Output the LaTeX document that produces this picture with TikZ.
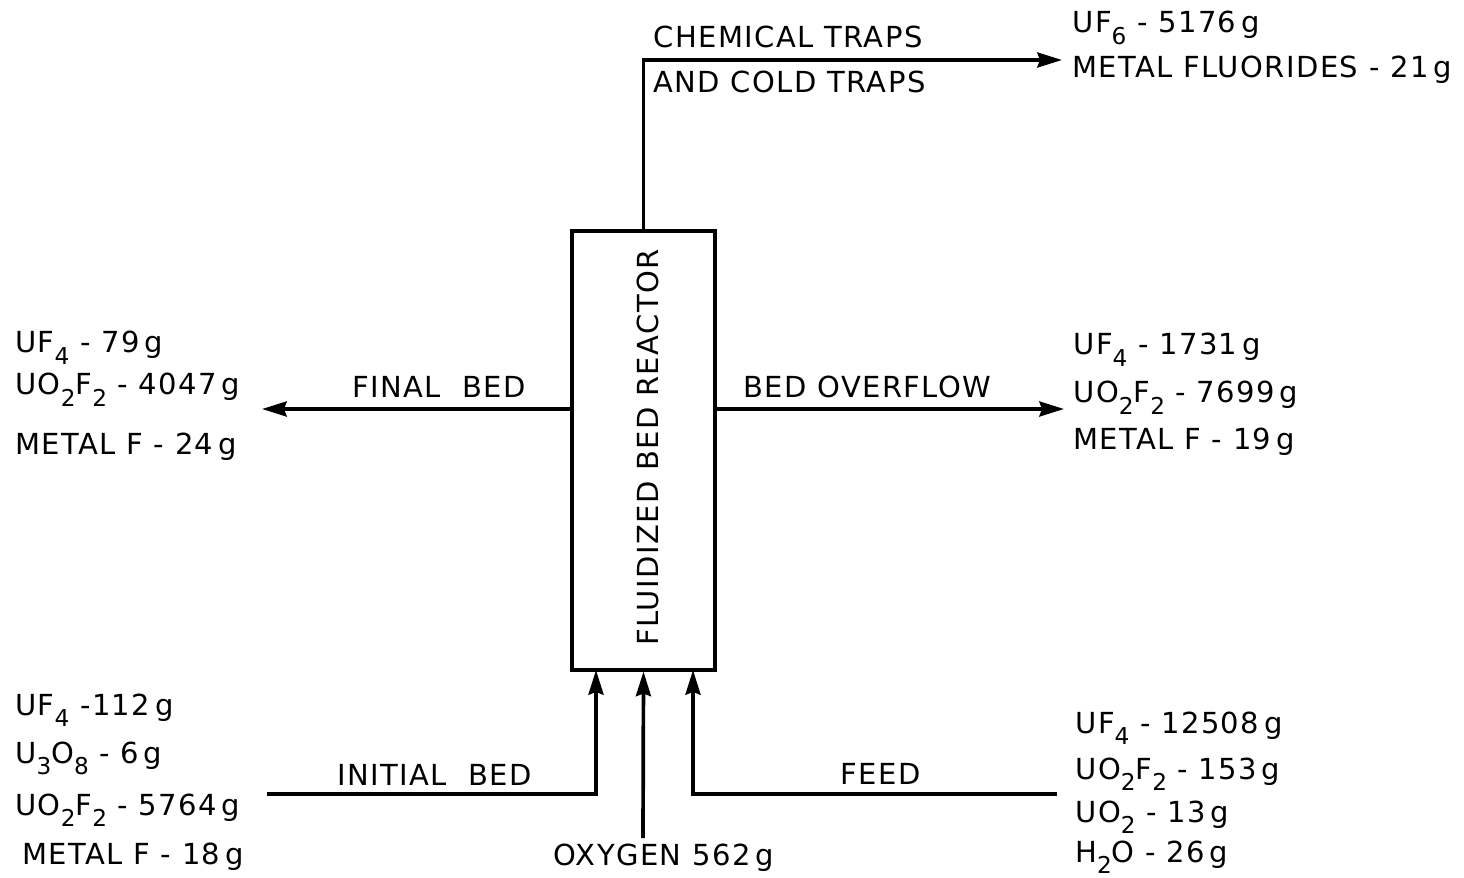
\documentclass[tikz,border=0pt]{standalone}
\usepackage{fontspec}
\setmainfont{DejaVu Sans}[LetterSpace=5]
\usetikzlibrary{arrows.meta}
\newcommand{\chemsub}[1]{\raisebox{-0.4em}{\scalebox{0.8}{#1}}}

\begin{document}
\begin{tikzpicture}[
    x=0.02cm,y=-0.02cm,
    font=\fontsize{16.5}{19}\selectfont,
    stream/.style={anchor=base west,inner sep=0pt},
    reactorbox/.style={draw,line width=1.8pt,minimum width=2.86cm,minimum height=8.78cm,inner sep=0pt},
    flow/.style={-{Stealth[length=14pt,width=8.5pt,inset=1.5pt]},line width=2.1pt}
  ]
    \useasboundingbox (0,0) rectangle (1464,878);

    % reactor
    \node[reactorbox] (reactor) at (643.5,450.5) {};
    \node[rotate=90,inner sep=0pt] (reactorlabel) at (648,447.5) {FLUIDIZED BED REACTOR};

    % free ends of the streams
    \coordinate (trapstip) at (1062,60);
    \coordinate (finaltip) at (262,409);
    \coordinate (overflowtip) at (1064,409);
    \coordinate (initialstart) at (267,794);
    \coordinate (initialin) at (596,670);
    \coordinate (oxygenstart) at (643,838);
    \coordinate (feedstart) at (1057,794);
    \coordinate (feedin) at (693,670);

    \draw[flow] (reactor.north) |- (trapstip);
    \draw[flow] (reactor.west |- finaltip) -- (finaltip);
    \draw[flow] (reactor.east |- overflowtip) -- (overflowtip);
    \draw[flow] (initialstart) -| (initialin);
    \draw[flow] (oxygenstart) -- (reactor.south);
    \draw[flow] (feedstart) -| (feedin);

    % stream labels
    \node[stream] (chemtraps) at (653,48) {CHEMICAL TRAPS};
    \node[stream] (coldtraps) at (653,93) {AND COLD TRAPS};
    \node[stream] (finalbed) at (352,398) {FINAL\ \ BED};
    \node[stream] (overflow) at (743,398) {BED OVERFLOW};
    \node[stream] (initialbed) at (337,785) {INITIAL\ \ BED};
    \node[stream] (feed) at (840,784) {FEED};
    \node[stream] (oxygen) at (553,865) {OXYGEN 562\,g};

    % off-gas
    \node[stream] (offuf) at (1072,33) {UF\chemsub{6}\ - 5176\,g};
    \node[stream] (offmetal) at (1072,78) {METAL FLUORIDES - 21\,g};

    % final bed
    \node[stream] (finaluf) at (15,353) {UF\chemsub{4}\ - 79\,g};
    \node[stream] (finaluo) at (15,395) {UO\chemsub{2}F\chemsub{2} - 4047\,g};
    \node[stream] (finalmetal) at (15,455) {METAL F - 24\,g};

    % bed overflow
    \node[stream] (overuf) at (1073,355) {UF\chemsub{4} - 1731\,g};
    \node[stream] (overuo) at (1073,403) {UO\chemsub{2}F\chemsub{2} - 7699\,g};
    \node[stream] (overmetal) at (1073,450) {METAL F - 19\,g};

    % initial bed
    \node[stream] (inituf) at (15,715) {UF\chemsub{4}\ -112\,g};
    \node[stream] (initu) at (15,763) {U\chemsub{3}O\chemsub{8} - 6\,g};
    \node[stream] (inituo) at (15,815) {UO\chemsub{2}F\chemsub{2} - 5764\,g};
    \node[stream] (initmetal) at (22,864) {METAL F - 18\,g};

    % feed
    \node[stream] (feeduf) at (1075,733) {UF\chemsub{4} - 12508\,g};
    \node[stream] (feeduo) at (1075,779) {UO\chemsub{2}F\chemsub{2} - 153\,g};
    \node[stream] (feeduoo) at (1075,822) {UO\chemsub{2} - 13\,g};
    \node[stream] (feedwater) at (1075,862) {H\chemsub{2}O - 26\,g};
  \end{tikzpicture}
\end{document}
